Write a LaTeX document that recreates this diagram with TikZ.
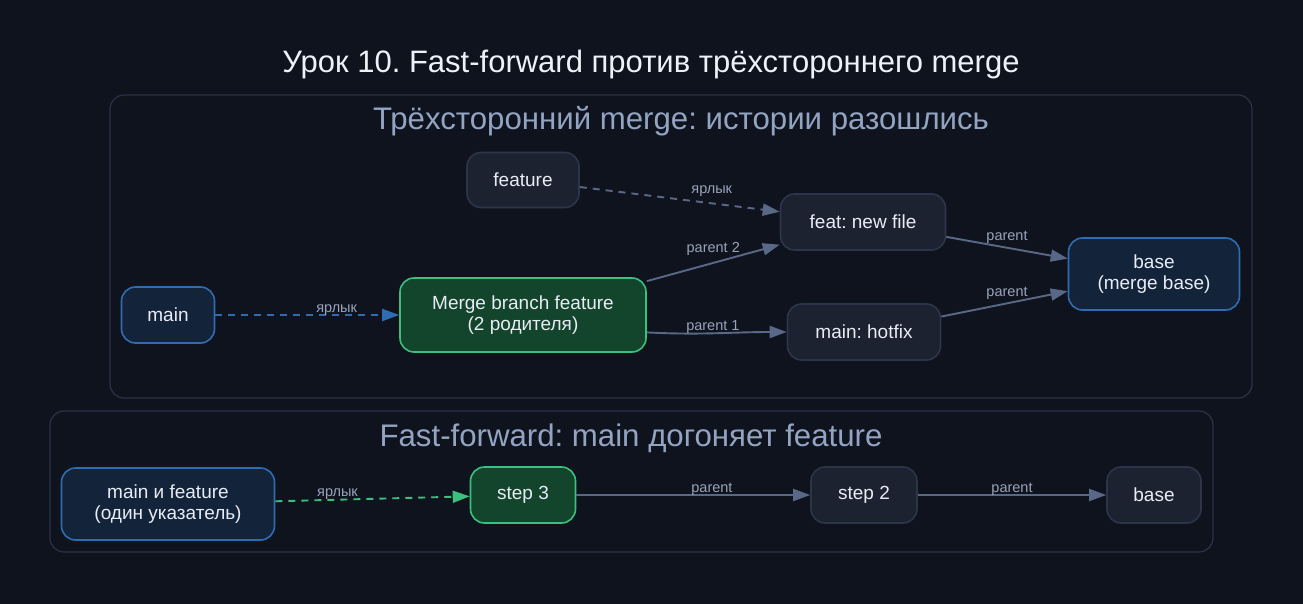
\documentclass[tikz,border=0pt]{standalone}
\usepackage{fontspec}
\setmainfont{Liberation Sans}
\usepackage{tikz}
\usetikzlibrary{arrows.meta}
\frenchspacing

\definecolor{bgcol}{HTML}{0F131E}
\definecolor{clusterline}{HTML}{2B3347}
\definecolor{clustertext}{HTML}{93A4C3}
\definecolor{titletext}{HTML}{EEF1F7}
\definecolor{nodetext}{HTML}{E8ECF4}
\definecolor{grayfill}{HTML}{1D2231}
\definecolor{grayline}{HTML}{2C3549}
\definecolor{bluefill}{HTML}{13243A}
\definecolor{blueline}{HTML}{2F6DB0}
\definecolor{greenfill}{HTML}{13442C}
\definecolor{greenline}{HTML}{3DBF7D}
\definecolor{edgecol}{HTML}{5A6888}
\definecolor{lblcol}{HTML}{98A3BA}

\begin{document}
\begin{tikzpicture}[x=1pt,y=-1pt,
  commit/.style={draw=grayline,fill=grayfill,line width=1.6pt,rounded corners=14pt,
    text=nodetext,align=center,inner sep=0pt,
    font=\fontsize{19}{21.5}\selectfont},
  tip/.style={draw=blueline,fill=bluefill},
  newc/.style={draw=greenline,fill=greenfill},
  cluster/.style={draw=clusterline,line width=1.2pt,rounded corners=14pt},
  ctitle/.style={text=clustertext,font=\fontsize{31.2}{34}\selectfont},
  edge/.style={draw=edgecol,line width=1.9pt,-{Triangle[length=17pt,width=12pt]}},
  ref/.style={edge,dash pattern=on 7pt off 6pt},
  lbl/.style={text=lblcol,font=\fontsize{14.5}{16}\selectfont,anchor=base,inner sep=0pt,yshift=3pt},
  slant/.style={lbl,yshift=7pt}]
  \fill[bgcol] (0,0) rectangle (1303,604);
  \useasboundingbox (0,0) rectangle (1303,604);
  \node[text=titletext,font=\fontsize{31}{34}\selectfont] (title) at (651,64) {Урок 10. Fast-forward против трёхстороннего merge};

  \draw[cluster] (110,95) rectangle (1252,398);
  \node[ctitle] (threeway) at (681,121) {Трёхсторонний merge: истории разошлись};
  \node[commit,minimum width=112,minimum height=55] (feature) at (523,180) {feature};
  \node[commit,minimum width=165,minimum height=56] (feat) at (863,222) {feat: new file};
  \node[commit,tip,minimum width=171,minimum height=72] (mbase) at (1154,274) {base\\(merge base)};
  \node[commit,tip,minimum width=93,minimum height=56] (main) at (168,315) {main};
  \node[commit,newc,minimum width=246,minimum height=74] (merge) at (523,315) {Merge branch feature\\(2 родителя)};
  \node[commit,minimum width=153,minimum height=56] (hotfix) at (864,332) {main: hotfix};
  \draw[ref,draw=blueline] (main) -- node[lbl,pos=0.66] {ярлык} (merge);
  \draw[ref] (feature) -- node[slant,pos=0.66] {ярлык} (feat);
  \draw[edge] (merge) -- node[slant,pos=0.5] {parent 2} (feat);
  \draw[edge] (merge.-8) to[out=-3,in=180] node[lbl,pos=0.47] {parent 1} (hotfix.west);
  \draw[edge] (feat) -- node[lbl,pos=0.5,yshift=4pt] {parent} (mbase);
  \draw[edge] (hotfix) -- node[lbl,pos=0.52,yshift=4pt] {parent} (mbase);

  \draw[cluster] (50,411) rectangle (1213,552);
  \node[ctitle] (ffwd) at (631,438) {Fast-forward: main догоняет feature};
  \node[commit,tip,minimum width=213,minimum height=72] (both) at (168,504) {main и feature\\(один указатель)};
  \node[commit,newc,minimum width=105,minimum height=56] (step3) at (523,495) {step 3};
  \node[commit,minimum width=106,minimum height=56] (step2) at (864,495) {step 2};
  \node[commit,minimum width=94,minimum height=56] (base) at (1154,495) {base};
  \draw[ref,draw=greenline] (both) -- node[lbl,pos=0.32] {ярлык} (step3);
  \draw[edge] (step3) -- node[lbl,pos=0.58] {parent} (step2);
  \draw[edge] (step2) -- node[lbl,pos=0.5] {parent} (base);
\end{tikzpicture}
\end{document}
